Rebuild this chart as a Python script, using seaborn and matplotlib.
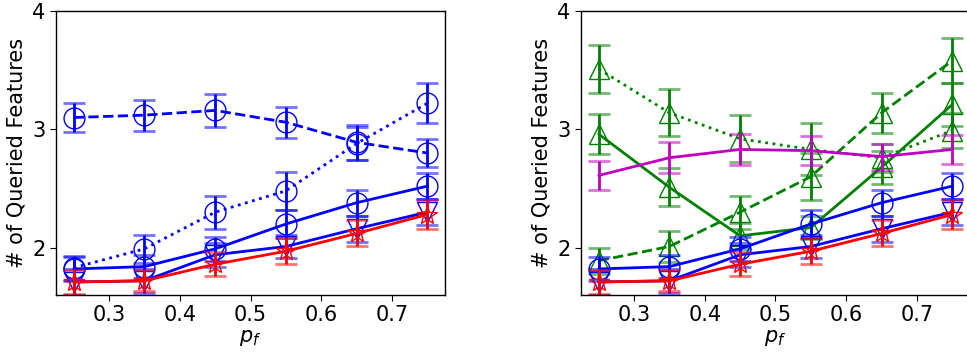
import matplotlib
matplotlib.use("Agg")
import matplotlib.pyplot as plt
import seaborn as sns
import numpy as np

sns.set_style("ticks", rc={"text.color": "black", "axes.labelcolor": "black",
                           "xtick.color": "black", "ytick.color": "black",
                           "axes.edgecolor": "black"})
plt.rcParams['font.family'] = ['DejaVu Sans']
plt.rcParams['font.size'] = 14

# ---- data ----
pf = [0.25, 0.35, 0.45, 0.55, 0.65, 0.75]

# shared series (both panels)
blue_circ_solid = [1.82, 1.84, 1.99, 2.20, 2.38, 2.52]
blue_circ_solid_err = [0.10, 0.10, 0.10, 0.12, 0.11, 0.11]
blue_tri_solid = [1.71, 1.72, 1.94, 2.01, 2.16, 2.30]
blue_tri_solid_err = [0.11, 0.10, 0.10, 0.10, 0.11, 0.11]
red_star_solid = [1.71, 1.72, 1.86, 1.97, 2.12, 2.28]
red_star_solid_err = [0.10, 0.09, 0.10, 0.11, 0.11, 0.12]

# left panel only
blue_circ_dashed = [3.10, 3.12, 3.16, 3.06, 2.89, 2.80]
blue_circ_dashed_err = [0.12, 0.13, 0.14, 0.13, 0.15, 0.12]
blue_circ_dotted = [1.83, 1.99, 2.30, 2.48, 2.88, 3.22]
blue_circ_dotted_err = [0.10, 0.12, 0.14, 0.16, 0.14, 0.17]

# right panel only
green_tri_dotted = [3.51, 3.14, 2.92, 2.83, 2.76, 2.99]
green_tri_dotted_err = [0.20, 0.20, 0.20, 0.22, 0.12, 0.15]
green_tri_solid = [2.96, 2.51, 2.10, 2.17, 2.68, 3.21]
green_tri_solid_err = [0.17, 0.16, 0.11, 0.10, 0.14, 0.18]
green_tri_dashed = [1.89, 2.01, 2.30, 2.60, 3.14, 3.58]
green_tri_dashed_err = [0.11, 0.13, 0.14, 0.20, 0.17, 0.19]
magenta_solid = [2.61, 2.76, 2.83, 2.82, 2.77, 2.83]
magenta_solid_err = [0.12, 0.13, 0.13, 0.125, 0.11, 0.12]

xticks = [0.3, 0.4, 0.5, 0.6, 0.7]
yticks = [2, 3, 4]
ylabel = "# of Queried Features"
xlabel = "$p_f$"

BLUE = "#0000ff"
RED = "#ff0000"
GREEN = "#008000"
MAGENTA = "#c000c0"


def draw(ax, y, err, color, ls, marker):
    kw = dict(color=color, linestyle=ls, linewidth=2)
    if marker is not None:
        kw.update(marker=marker, markersize=15, markerfacecolor="none",
                  markeredgecolor=color, markeredgewidth=1.0)
    sns.lineplot(x=pf, y=y, ax=ax, **kw)
    _, caps, bars = ax.errorbar(pf, y, yerr=err, fmt="none", ecolor=color,
                                elinewidth=2, capsize=8, capthick=2)
    for c in caps:
        c.set_alpha(0.55)


fig = plt.figure(figsize=(9.67, 3.53), dpi=100)
axL = fig.add_axes([0.0579, 0.1643, 0.4023, 0.8045])
axR = fig.add_axes([0.6008, 0.1643, 0.4023, 0.8045])

# left panel
draw(axL, blue_circ_dashed, blue_circ_dashed_err, BLUE, "--", "o")
draw(axL, blue_circ_dotted, blue_circ_dotted_err, BLUE, ":", "o")
draw(axL, blue_circ_solid, blue_circ_solid_err, BLUE, "-", "o")
draw(axL, blue_tri_solid, blue_tri_solid_err, BLUE, "-", "v")
draw(axL, red_star_solid, red_star_solid_err, RED, "-", "*")

# right panel
draw(axR, green_tri_dotted, green_tri_dotted_err, GREEN, ":", "^")
draw(axR, green_tri_solid, green_tri_solid_err, GREEN, "-", "^")
draw(axR, green_tri_dashed, green_tri_dashed_err, GREEN, "--", "^")
draw(axR, magenta_solid, magenta_solid_err, MAGENTA, "-", None)
draw(axR, blue_circ_solid, blue_circ_solid_err, BLUE, "-", "o")
draw(axR, blue_tri_solid, blue_tri_solid_err, BLUE, "-", "v")
draw(axR, red_star_solid, red_star_solid_err, RED, "-", "*")

for ax in (axL, axR):
    ax.set_xlim(0.225, 0.775)
    ax.set_ylim(1.6, 4.0)
    ax.set_xticks(xticks)
    ax.set_yticks(yticks)
    ax.set_xticklabels([f"{t:.1f}" for t in xticks])
    ax.set_yticklabels([str(t) for t in yticks])
    ax.set_xlabel(xlabel, fontsize=15, labelpad=2, color="black")
    ax.set_ylabel(ylabel, fontsize=15, color="black")
    ax.tick_params(labelsize=15, direction="out", length=4, width=0.8,
                   colors="black")
    for s in ax.spines.values():
        s.set_linewidth(1.0)
        s.set_color("black")
    ax.grid(False)

fig.savefig("out.png", dpi=100)
